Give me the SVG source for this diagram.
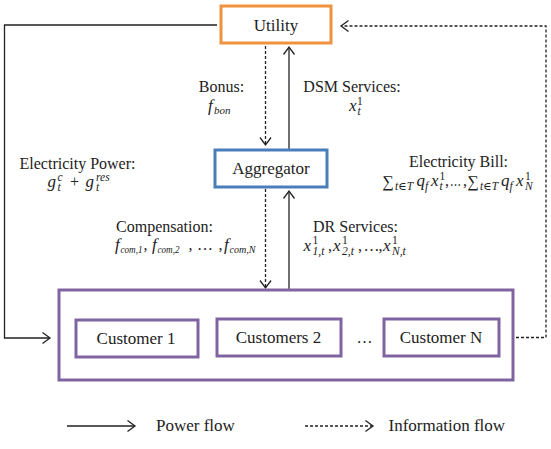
<svg xmlns="http://www.w3.org/2000/svg" width="551" height="449" viewBox="0 0 551 449" font-family="'Liberation Serif', 'DejaVu Serif', serif">
<style>
text { font-family: 'Liberation Serif', 'DejaVu Serif', serif; fill: #222; }
.nl { font-size: 17px; text-anchor: middle; }
.el { font-size: 16px; text-anchor: middle; }
.lg { font-size: 17px; }
.mv { font-size: 17px; font-style: italic; }
.mr { font-size: 16px; }
.ms { font-size: 11.5px; font-style: italic; }
.mu { font-size: 11.5px; }
.sb { font-size: 11px; font-style: italic; }
.box { fill: #fff; stroke-width: 3; }
.util { stroke: #F0913F; }
.agg { stroke: #4A7EBB; }
.cus { stroke: #8064A2; fill: none; }
.solid { fill: none; stroke: #222; stroke-width: 1.3; }
.dash { fill: none; stroke: #222; stroke-width: 1.3; stroke-dasharray: 3 2; }
</style>
<defs>
<marker id="ah" markerWidth="12" markerHeight="14" refX="9" refY="7" orient="auto" markerUnits="userSpaceOnUse">
<path d="M1.5,1.5 L9,7 L1.5,12.5" fill="none" stroke="#222" stroke-width="1.3" stroke-dasharray="none"/>
</marker>
</defs>

<g id="connectors">
<path class="solid" d="M217,25 H4.5 V338 H50" marker-end="url(#ah)"/>
<path class="dash" d="M516,337.5 H546 V26 H341" marker-end="url(#ah)"/>
<path class="dash" d="M265.5,46 V145" marker-end="url(#ah)"/>
<path class="solid" d="M289,150 V47" marker-end="url(#ah)"/>
<path class="dash" d="M265.5,189 V288" marker-end="url(#ah)"/>
<path class="solid" d="M289,290 V191" marker-end="url(#ah)"/>
</g>

<g id="utility">
<rect class="box util" x="221" y="6" width="110" height="37"/>
<text class="nl" x="276" y="31">Utility</text>
</g>

<g id="aggregator">
<rect class="box agg" x="215" y="150" width="112" height="37"/>
<text class="nl" x="271" y="174">Aggregator</text>
</g>

<g id="customers">
<rect class="box cus" x="59" y="290" width="454" height="90"/>
<g id="customer1">
<rect class="box cus" x="76" y="320" width="122" height="37"/>
<text class="nl" x="136" y="344">Customer 1</text>
</g>
<g id="customer2">
<rect class="box cus" x="217" y="319" width="124" height="37"/>
<text class="nl" x="278.5" y="343">Customers 2</text>
</g>
<text class="el" x="364.5" y="343">…</text>
<g id="customerN">
<rect class="box cus" x="384" y="319" width="115" height="37"/>
<text class="nl" x="441" y="343">Customer N</text>
</g>
</g>

<g id="labels">
<text class="el" x="221.5" y="92">Bonus:</text>
<text><tspan class="mv" x="208" y="111">f</tspan><tspan class="sb" x="214" y="114">bon</tspan></text>

<text class="el" x="352" y="92">DSM Services:</text>
<text><tspan class="mv" x="349" y="111">x</tspan><tspan class="mu" x="357" y="104.5">1</tspan><tspan class="ms" x="357.5" y="115">t</tspan></text>

<text class="el" x="77.5" y="169">Electricity Power:</text>
<text><tspan class="mv" x="47.5" y="186.5">g</tspan><tspan class="ms" x="57.5" y="180.5">c</tspan><tspan class="ms" x="57.5" y="190.5">t</tspan><tspan class="mr" x="70" y="186.5">+</tspan><tspan class="mv" x="85.5" y="186.5">g</tspan><tspan class="ms" x="96" y="180.5">res</tspan><tspan class="ms" x="96" y="190.5">t</tspan></text>

<text class="el" x="458.5" y="167">Electricity Bill:</text>
<text><tspan class="mr" x="382.5" y="187" font-size="17">∑</tspan><tspan class="ms" x="395" y="190" textLength="18" lengthAdjust="spacingAndGlyphs">t∈T</tspan><tspan class="mv" x="416.5" y="186">q</tspan><tspan class="ms" x="425" y="190">f</tspan><tspan class="mv" x="431" y="186">x</tspan><tspan class="mu" x="439.5" y="180">1</tspan><tspan class="ms" x="439.5" y="190">t</tspan><tspan class="mr" x="445" y="186">,</tspan><tspan class="mr" x="450" y="186" font-size="13" textLength="11" lengthAdjust="spacingAndGlyphs">…</tspan><tspan class="mr" x="463" y="186">,</tspan><tspan class="mr" x="467.5" y="187" font-size="17">∑</tspan><tspan class="ms" x="480" y="190" textLength="18" lengthAdjust="spacingAndGlyphs">t∈T</tspan><tspan class="mv" x="501" y="186">q</tspan><tspan class="ms" x="509.5" y="190">f</tspan><tspan class="mv" x="516" y="186">x</tspan><tspan class="mu" x="525" y="180">1</tspan><tspan class="ms" x="525" y="190">N</tspan></text>

<text class="el" x="164.5" y="232">Compensation:</text>
<text><tspan class="mv" x="115" y="250">f</tspan><tspan class="sb" x="120.5" y="253" textLength="22" lengthAdjust="spacingAndGlyphs">com,1</tspan><tspan class="mr" x="143.5" y="250">,</tspan><tspan class="mv" x="152" y="250">f</tspan><tspan class="sb" x="157.5" y="253" textLength="22" lengthAdjust="spacingAndGlyphs">com,2</tspan><tspan class="mr" x="188.5" y="250">,</tspan><tspan class="mr" x="197" y="250" font-size="14">…</tspan><tspan class="mr" x="218.5" y="250">,</tspan><tspan class="mv" x="224" y="250">f</tspan><tspan class="sb" x="229.5" y="253" textLength="26" lengthAdjust="spacingAndGlyphs">com,N</tspan></text>

<text class="el" x="355.5" y="232">DR Services:</text>
<text><tspan class="mv" x="303.5" y="251">x</tspan><tspan class="mu" x="312.5" y="244">1</tspan><tspan class="ms" x="312.5" y="255">1,t</tspan><tspan class="mr" x="328" y="251">,</tspan><tspan class="mv" x="333" y="251">x</tspan><tspan class="mu" x="342" y="244">1</tspan><tspan class="ms" x="342" y="255">2,t</tspan><tspan class="mr" x="358" y="251">,</tspan><tspan class="mr" x="363.5" y="251" font-size="13">…</tspan><tspan class="mr" x="378.5" y="251">,</tspan><tspan class="mv" x="383" y="251">x</tspan><tspan class="mu" x="392" y="244">1</tspan><tspan class="ms" x="392" y="255">N,t</tspan></text>
</g>

<g id="legend">
<path class="solid" d="M67,426 H135" marker-end="url(#ah)"/>
<text class="lg" x="156" y="431">Power flow</text>
<path class="dash" d="M305,426 H373" marker-end="url(#ah)"/>
<text class="lg" x="388.5" y="431">Information flow</text>
</g>
</svg>
